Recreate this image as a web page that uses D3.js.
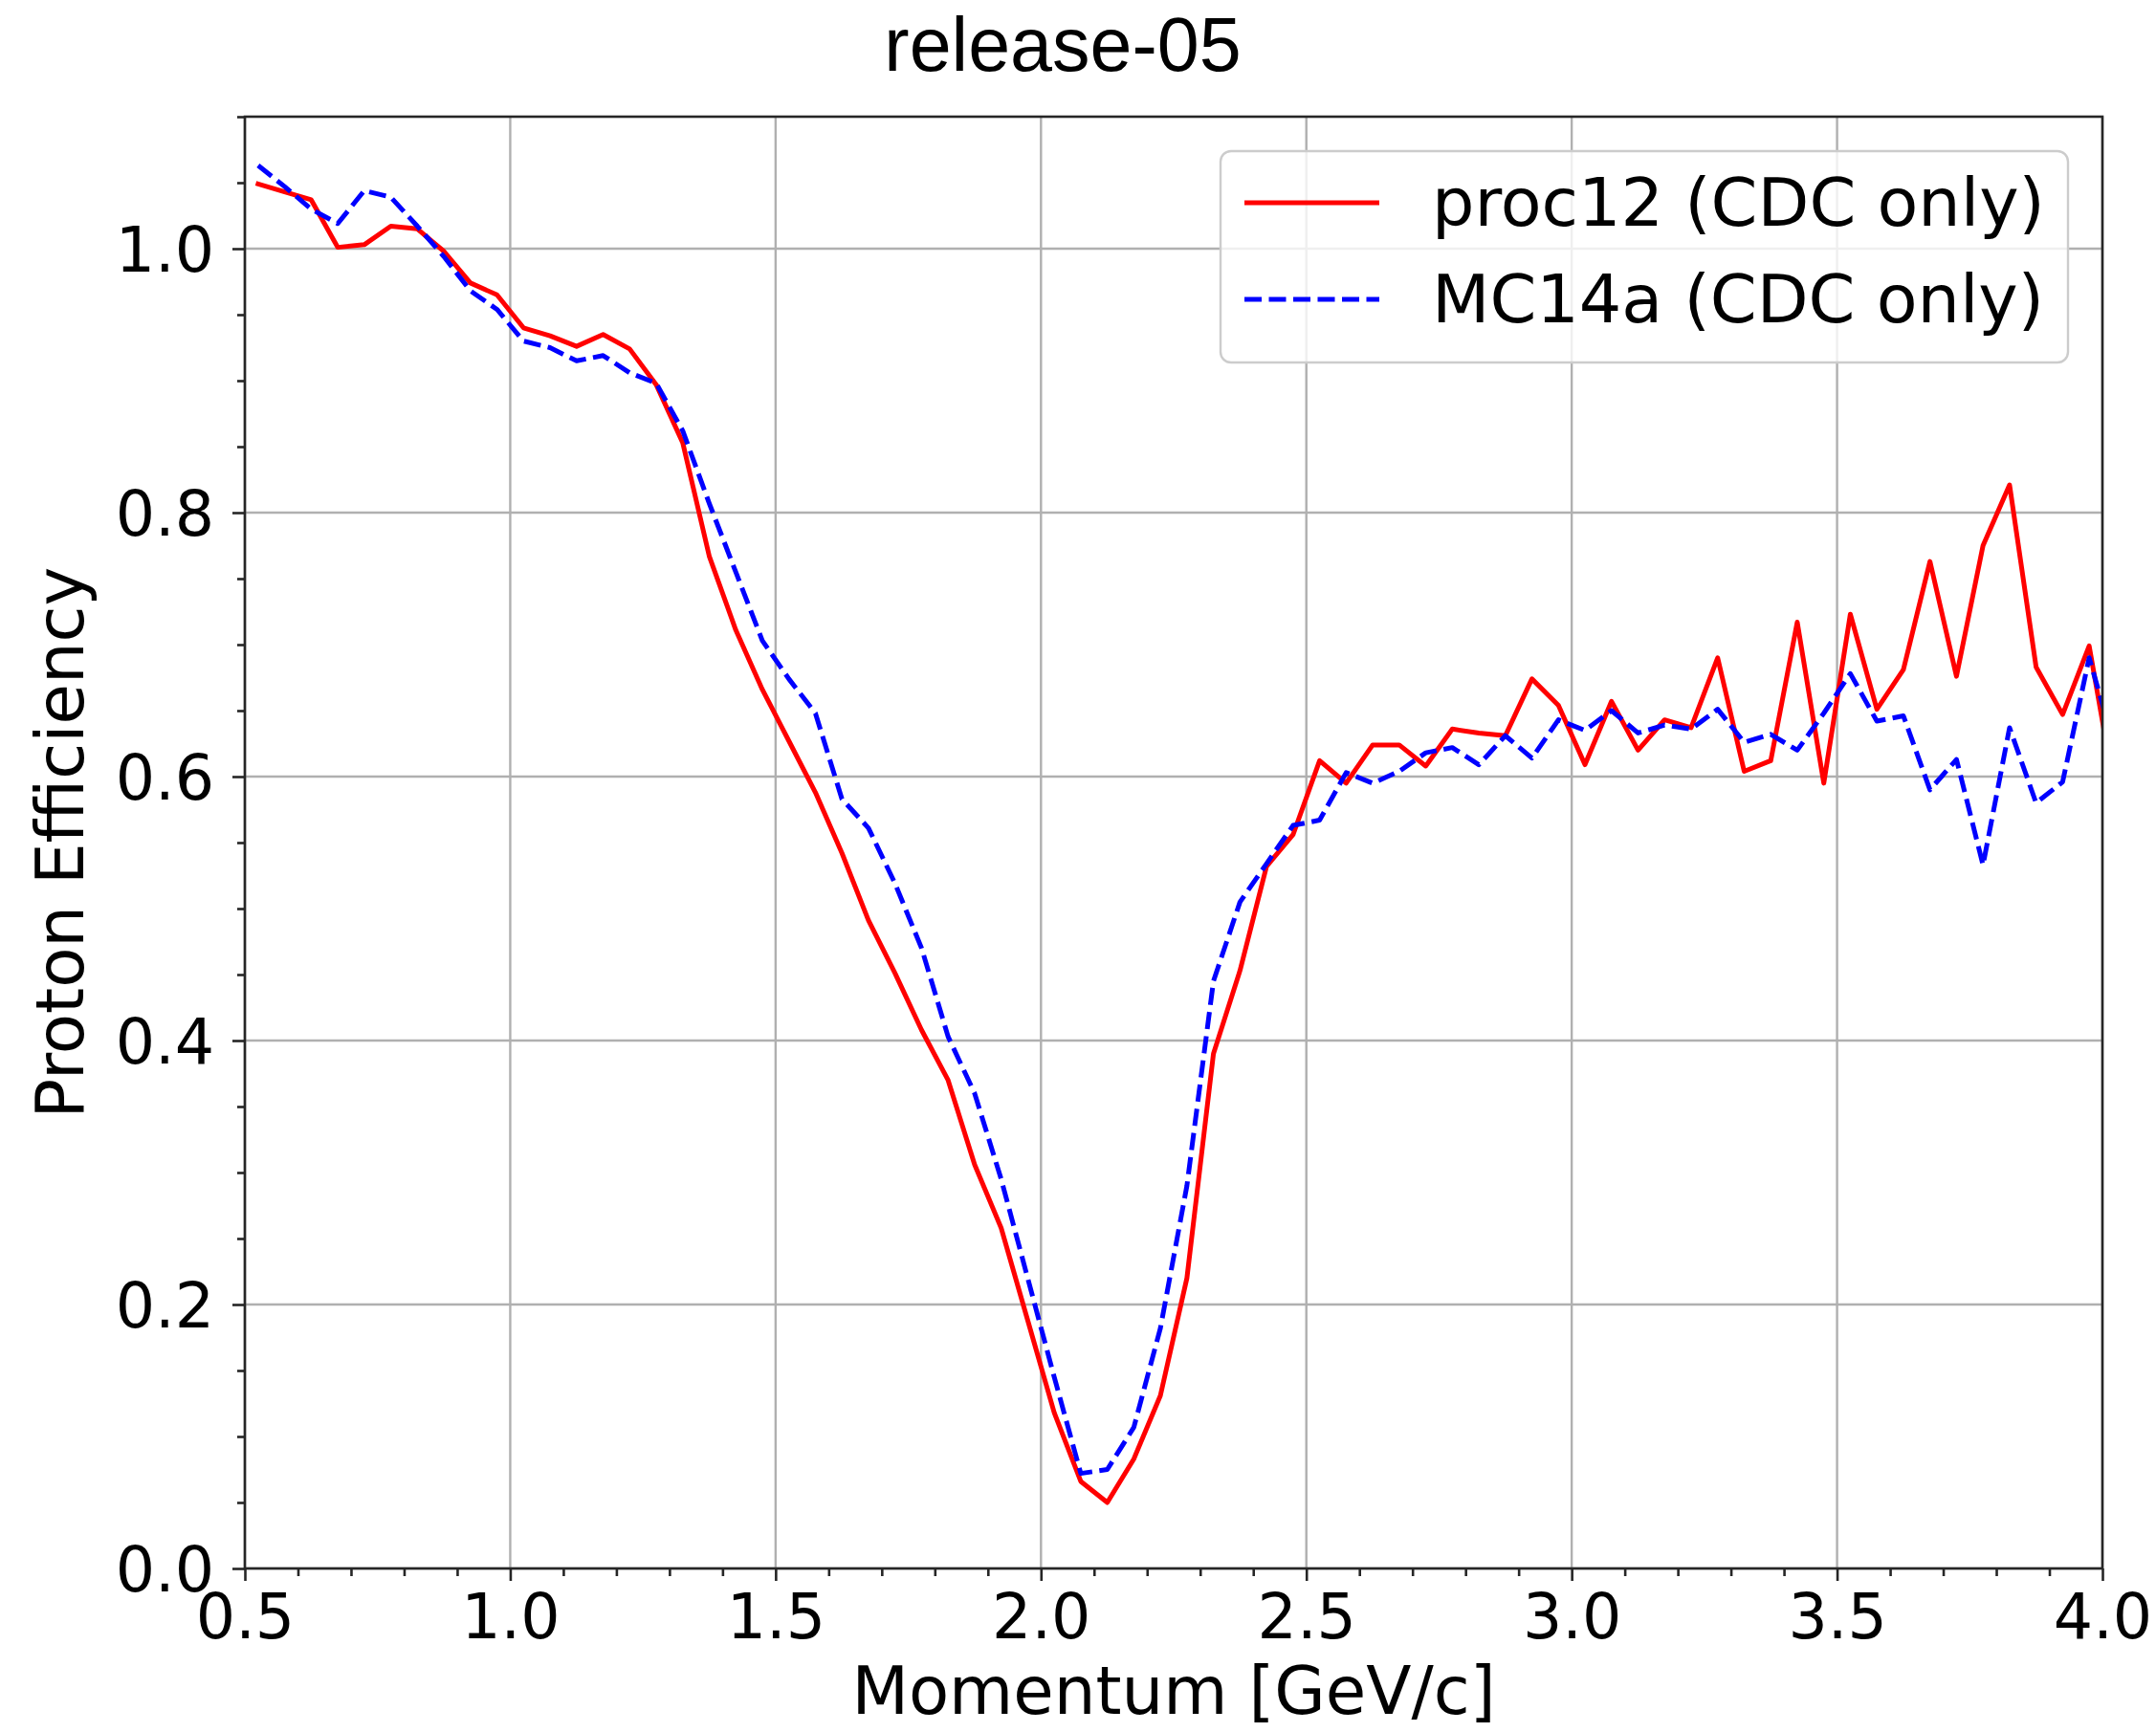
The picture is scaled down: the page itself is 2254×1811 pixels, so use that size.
<!DOCTYPE html>
<html>
<head>
<meta charset="utf-8">
<script src="https://cdn.jsdelivr.net/npm/d3@7"></script>
<style>
  html, body { margin: 0; padding: 0; background: #ffffff; }
  svg { display: block; }
</style>
</head>
<body>
<svg id="chart" width="2254" height="1811"></svg>
<script>
// ---------------- data ----------------
const momentum = [
  0.525, 0.575, 0.625, 0.675, 0.725, 0.775, 0.825, 0.875, 0.925, 0.975,
  1.025, 1.075, 1.125, 1.175, 1.225, 1.275, 1.325, 1.375, 1.425, 1.475,
  1.525, 1.575, 1.625, 1.675, 1.725, 1.775, 1.825, 1.875, 1.925, 1.975,
  2.025, 2.075, 2.125, 2.175, 2.225, 2.275, 2.325, 2.375, 2.425, 2.475,
  2.525, 2.575, 2.625, 2.675, 2.725, 2.775, 2.825, 2.875, 2.925, 2.975,
  3.025, 3.075, 3.125, 3.175, 3.225, 3.275, 3.325, 3.375, 3.425, 3.475,
  3.525, 3.575, 3.625, 3.675, 3.725, 3.775, 3.825, 3.875, 3.925, 3.975,
  4.025
];
const proc12 = [
  1.049, 1.043, 1.037, 1.001, 1.003, 1.017, 1.015, 0.998, 0.974, 0.965,
  0.940, 0.934, 0.926, 0.935, 0.924, 0.897, 0.853, 0.767, 0.711, 0.666,
  0.627, 0.588, 0.542, 0.491, 0.451, 0.408, 0.370, 0.306, 0.258, 0.188,
  0.118, 0.066, 0.050, 0.083, 0.131, 0.220, 0.390, 0.453, 0.532, 0.556,
  0.612, 0.595, 0.624, 0.624, 0.608, 0.636, 0.633, 0.631, 0.674, 0.654,
  0.609, 0.657, 0.620, 0.643, 0.637, 0.690, 0.604, 0.612, 0.717, 0.595,
  0.723, 0.651, 0.681, 0.763, 0.676, 0.775, 0.821, 0.683, 0.647, 0.699,
  0.585
];
const mc14a = [
  1.063, 1.047, 1.030, 1.019, 1.044, 1.039, 1.017, 0.994, 0.968, 0.954,
  0.930, 0.925, 0.915, 0.919, 0.906, 0.898, 0.862, 0.807, 0.755, 0.703,
  0.674, 0.648, 0.583, 0.561, 0.519, 0.470, 0.403, 0.360, 0.295, 0.220,
  0.145, 0.072, 0.075, 0.107, 0.182, 0.290, 0.445, 0.505, 0.534, 0.563,
  0.567, 0.603, 0.595, 0.604, 0.618, 0.622, 0.609, 0.631, 0.614, 0.643,
  0.635, 0.650, 0.633, 0.639, 0.636, 0.651, 0.626, 0.632, 0.620, 0.648,
  0.678, 0.642, 0.646, 0.590, 0.613, 0.533, 0.637, 0.580, 0.596, 0.690,
  0.620
];
const seriesNames = ["proc12 (CDC only)", "MC14a (CDC only)"];
const xTicks = [0.5, 1.0, 1.5, 2.0, 2.5, 3.0, 3.5, 4.0];
const xMinorTicks = [0.6, 0.7, 0.8, 0.9, 1.1, 1.2, 1.3, 1.4, 1.6, 1.7, 1.8, 1.9,
  2.1, 2.2, 2.3, 2.4, 2.6, 2.7, 2.8, 2.9, 3.1, 3.2, 3.3, 3.4, 3.6, 3.7, 3.8, 3.9];
const yTicks = [0.0, 0.2, 0.4, 0.6, 0.8, 1.0];
const yMinorTicks = [0.05, 0.1, 0.15, 0.25, 0.3, 0.35, 0.45, 0.5, 0.55, 0.65, 0.7,
  0.75, 0.85, 0.9, 0.95, 1.05, 1.1];
const titleText = "release-05";
const xLabel = "Momentum [GeV/c]";
const yLabel = "Proton Efficiency";

// ---------------- layout ----------------
const svg = d3.select("#chart");
const L = 256, R = 2198, T = 122, B = 1640;
const x = d3.scaleLinear().domain([0.5, 4.0]).range([L, R]);
const y = d3.scaleLinear().domain([0, 1.1]).range([B, T]);
const tickFont = "'DejaVu Sans', sans-serif";
const spineColor = "#262626";
const lw = 5.0;
const dashPattern = "18,7.5";

svg.append("rect").attr("width", 2254).attr("height", 1811).attr("fill", "#ffffff");

// clip
svg.append("defs").append("clipPath").attr("id", "plotclip")
  .append("rect").attr("x", L).attr("y", T).attr("width", R - L).attr("height", B - T);

// grid
const grid = svg.append("g");
grid.selectAll("line.gx").data(xTicks).enter().append("line")
  .attr("x1", d => x(d)).attr("x2", d => x(d)).attr("y1", T).attr("y2", B)
  .attr("stroke", "#b0b0b0").attr("stroke-width", 2.4);
grid.selectAll("line.gy").data(yTicks).enter().append("line")
  .attr("y1", d => y(d)).attr("y2", d => y(d)).attr("x1", L).attr("x2", R)
  .attr("stroke", "#b0b0b0").attr("stroke-width", 2.4);

// lines
const pts1 = momentum.map((m, i) => ({ m, v: proc12[i] }));
const pts2 = momentum.map((m, i) => ({ m, v: mc14a[i] }));
const line = d3.line().x(d => x(d.m)).y(d => y(d.v));
const plot = svg.append("g").attr("clip-path", "url(#plotclip)");
plot.append("path").datum(pts1).attr("d", line)
  .attr("fill", "none").attr("stroke", "#ff0000").attr("stroke-width", lw)
  .attr("stroke-linejoin", "round").attr("stroke-linecap", "square");
plot.append("path").datum(pts2).attr("d", line)
  .attr("fill", "none").attr("stroke", "#0000ff").attr("stroke-width", lw)
  .attr("stroke-linejoin", "round").attr("stroke-linecap", "butt")
  .attr("stroke-dasharray", dashPattern);

// axes
function styleAxis(g, fontSize) {
  g.select(".domain").remove();
  g.selectAll(".tick line").attr("stroke", spineColor).attr("stroke-width", 2.6);
  g.selectAll(".tick text").attr("fill", "#000").style("font-family", tickFont)
    .style("font-size", fontSize + "px");
}
const xAxis = svg.append("g").attr("transform", `translate(0,${B})`)
  .call(d3.axisBottom(x).tickValues(xTicks).tickSize(13).tickPadding(20)
    .tickFormat(d3.format(".1f")));
styleAxis(xAxis, 65);
xAxis.selectAll(".tick text").attr("dy", null).attr("y", 73);
const xAxisMinor = svg.append("g").attr("transform", `translate(0,${B})`)
  .call(d3.axisBottom(x).tickValues(xMinorTicks).tickSize(8).tickFormat(""));
styleAxis(xAxisMinor, 10);

const yAxis = svg.append("g").attr("transform", `translate(${L},0)`)
  .call(d3.axisLeft(y).tickValues(yTicks).tickSize(13).tickPadding(20)
    .tickFormat(d3.format(".1f")));
styleAxis(yAxis, 65);
yAxis.selectAll(".tick text").attr("dy", null).attr("dominant-baseline", null)
  .attr("x", -32).attr("y", 23.5);
const yAxisMinor = svg.append("g").attr("transform", `translate(${L},0)`)
  .call(d3.axisLeft(y).tickValues(yMinorTicks).tickSize(8).tickFormat(""));
styleAxis(yAxisMinor, 10);

// spines
svg.append("rect").attr("x", L).attr("y", T).attr("width", R - L).attr("height", B - T)
  .attr("fill", "none").attr("stroke", spineColor).attr("stroke-width", 2.6);

// labels
svg.append("text").attr("x", (L + R) / 2).attr("y", 1792).attr("text-anchor", "middle")
  .style("font-family", tickFont).style("font-size", "69px").attr("fill", "#000")
  .text(xLabel);
svg.append("text").attr("transform", `translate(87,${(T + B) / 2}) rotate(-90)`)
  .attr("text-anchor", "middle")
  .style("font-family", tickFont).style("font-size", "69px").attr("fill", "#000")
  .text(yLabel);
svg.append("text").attr("x", 1111).attr("y", 74).attr("text-anchor", "middle")
  .style("font-family", "'Liberation Sans', Arial, sans-serif").style("font-size", "79px")
  .attr("fill", "#000").text(titleText);

// legend
const lg = svg.append("g");
lg.append("rect").attr("x", 1276).attr("y", 158).attr("width", 886).attr("height", 221)
  .attr("rx", 11).attr("ry", 11)
  .attr("fill", "#ffffff").attr("fill-opacity", 0.8)
  .attr("stroke", "#cccccc").attr("stroke-width", 2.4);
const legendItems = [
  { name: seriesNames[0], color: "#ff0000", dash: null, ly: 212 },
  { name: seriesNames[1], color: "#0000ff", dash: dashPattern, ly: 313 }
];
const li = lg.selectAll("g.item").data(legendItems).enter().append("g");
li.append("line").attr("x1", 1301).attr("x2", 1442)
  .attr("y1", d => d.ly).attr("y2", d => d.ly)
  .attr("stroke", d => d.color).attr("stroke-width", lw)
  .attr("stroke-dasharray", d => d.dash);
li.append("text").attr("x", 1497).attr("y", d => d.ly + 24)
  .style("font-family", tickFont).style("font-size", "70px").attr("fill", "#000")
  .text(d => d.name);
</script>
</body>
</html>
